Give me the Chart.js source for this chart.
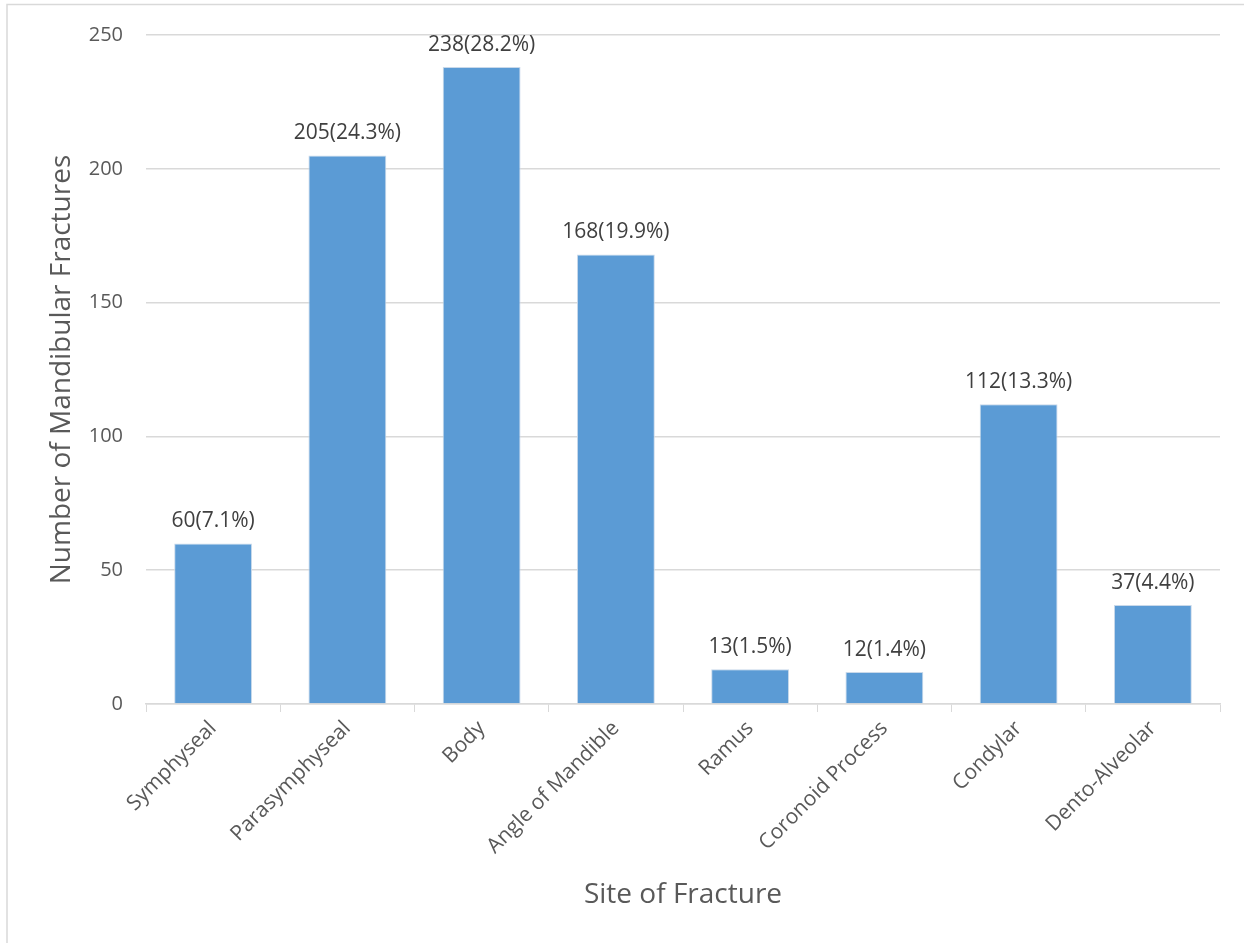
<!DOCTYPE html>
<html>
<head>
<meta charset="utf-8">
<script src="https://cdn.jsdelivr.net/npm/chart.js@4"></script>
<style>
html,body{margin:0;padding:0;background:#fff;}
#wrap{width:1244px;height:943px;position:relative;}
</style>
</head>
<body>
<div id="wrap"><canvas id="c" width="1244" height="943"></canvas></div>
<script>
const categories = ["Symphyseal","Parasymphyseal","Body","Angle of Mandible","Ramus","Coronoid Process","Condylar","Dento-Alveolar"];
const counts = [60,205,238,168,13,12,112,37];
const percents = ["7.1%","24.3%","28.2%","19.9%","1.5%","1.4%","13.3%","4.4%"];
const yTicks = [0,50,100,150,200,250];

const FONT = "'Open Sans', sans-serif";

const decor = {
  id: 'decor',
  beforeDraw(chart){
    const ctx = chart.ctx;
    ctx.save();
    ctx.fillStyle = '#fff';
    ctx.fillRect(0,0,chart.width,chart.height);
    ctx.strokeStyle = '#d9d9d9';
    ctx.lineWidth = 1.5;
    ctx.beginPath();
    ctx.moveTo(7, chart.height);
    ctx.lineTo(7, 4.5);
    ctx.lineTo(chart.width, 4.5);
    ctx.stroke();
    ctx.restore();
  },
  afterDatasetsDraw(chart){
    const ctx = chart.ctx;
    const meta = chart.getDatasetMeta(0);
    ctx.save();
    ctx.font = "21px " + FONT;
    ctx.fillStyle = '#404040';
    ctx.textAlign = 'center';
    ctx.textBaseline = 'alphabetic';
    meta.data.forEach((bar, i) => {
      ctx.fillText(counts[i] + "(" + percents[i] + ")", bar.x, bar.y - 16);
    });
    ctx.restore();
  }
};

new Chart(document.getElementById('c'), {
  type: 'bar',
  data: {
    labels: categories,
    datasets: [{
      data: counts,
      backgroundColor: '#5b9bd5',
      borderColor: '#c9d9ea',
      borderWidth: 1,
      barPercentage: 0.58,
      categoryPercentage: 1.0
    }]
  },
  options: {
    responsive: false,
    animation: false,
    devicePixelRatio: 1,
    layout: { padding: { left: 0, top: 34, right: 24, bottom: 0 } },
    plugins: { legend: { display: false }, tooltip: { enabled: false } },
    scales: {
      x: {
        grid: { drawOnChartArea: false, drawTicks: true, tickLength: 8, color: '#d9d9d9', offset: true },
        border: { display: true, color: '#d9d9d9', width: 1.5 },
        ticks: { color: '#595959', font: { family: FONT, size: 21 }, minRotation: 45, maxRotation: 45, padding: 4 },
        title: { display: true, text: 'Site of Fracture', color: '#595959', font: { family: FONT, size: 28 }, padding: { top: 0, bottom: 31 } },
        afterFit(scale){ scale.height = 239; }
      },
      y: {
        min: 0, max: 250,
        afterBuildTicks(scale){ scale.ticks = yTicks.map(v => ({ value: v })); },
        grid: { color: '#d9d9d9', lineWidth: 1.5, drawTicks: false },
        border: { display: false },
        ticks: { color: '#595959', font: { family: FONT, size: 20 }, padding: 23 },
        title: { display: true, text: 'Number of Mandibular Fractures', color: '#595959', font: { family: FONT, size: 28 }, padding: { top: 45, bottom: 0 } },
        afterFit(scale){ scale.width = 146; }
      }
    }
  },
  plugins: [decor]
});
</script>
</body>
</html>
